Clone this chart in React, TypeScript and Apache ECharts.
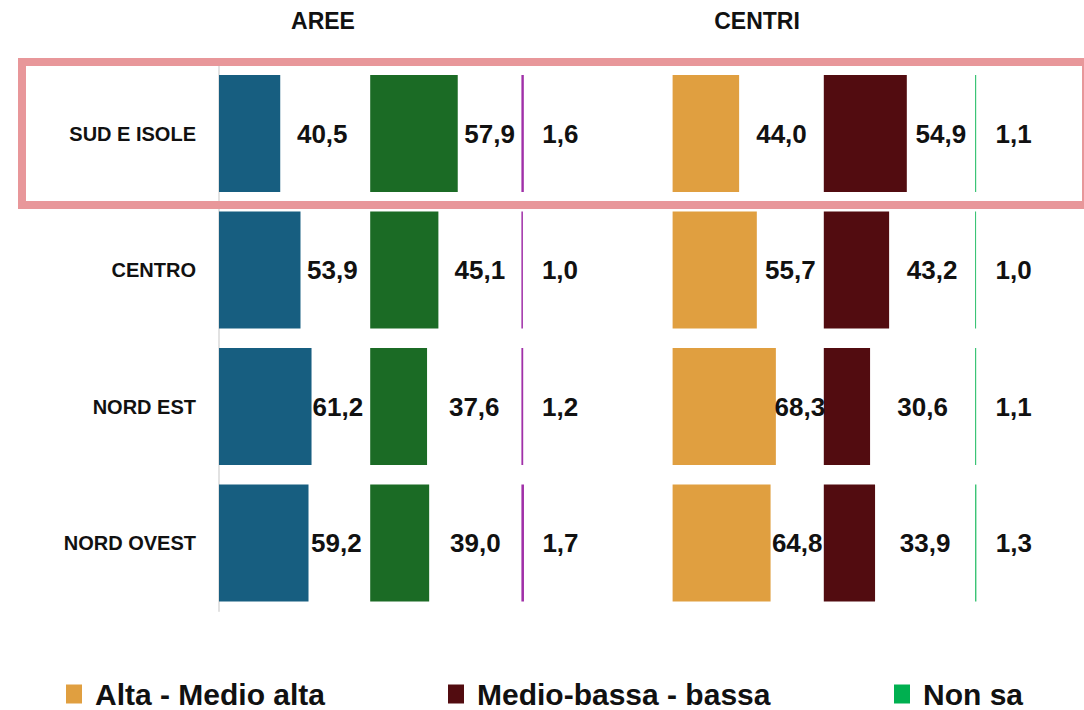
import React, { useEffect, useRef } from "react";
import * as echarts from "echarts";

const CATEGORIES = ["SUD E ISOLE", "CENTRO", "NORD EST", "NORD OVEST"];
const GROUP_TITLES = ["AREE", "CENTRI"];
const LEGEND_NAMES = ["Alta - Medio alta", "Medio-bassa - bassa", "Non sa"];

const AREE_ALTA = [40.5, 53.9, 61.2, 59.2];
const AREE_BASSA = [57.9, 45.1, 37.6, 39.0];
const AREE_NONSA = [1.6, 1.0, 1.2, 1.7];
const CENTRI_ALTA = [44.0, 55.7, 68.3, 64.8];
const CENTRI_BASSA = [54.9, 43.2, 30.6, 33.9];
const CENTRI_NONSA = [1.1, 1.0, 1.1, 1.3];

const FONT = "'Liberation Sans', Arial, sans-serif";
const COL_LEFT = 219;
const COL_W = 151.2;
const GRID_TOP = 65.25;
const GRID_H = 546;
const PX_PER_UNIT = COL_W / 100;

const fmt = (v: number) => v.toFixed(1).replace(".", ",");

export default function App() {
  const ref = useRef<HTMLDivElement>(null);

  useEffect(() => {
    if (!ref.current) return;
    const chart = echarts.init(ref.current, undefined, { renderer: "svg" });

    const columns = [
      { data: AREE_ALTA, color: "#175e80", name: "Aree: " + LEGEND_NAMES[0], span: 100, shift: -3 },
      { data: AREE_BASSA, color: "#1b6b25", name: "Aree: " + LEGEND_NAMES[1], span: 100, shift: 0 },
      { data: AREE_NONSA, color: "#a030a8", name: "Aree: " + LEGEND_NAMES[2], span: 50, shift: 0 },
      { data: CENTRI_ALTA, color: "#e09f40", name: LEGEND_NAMES[0], span: 100, shift: 0 },
      { data: CENTRI_BASSA, color: "#520c10", name: LEGEND_NAMES[1], span: 100, shift: 0 },
      { data: CENTRI_NONSA, color: "#3cc476", name: LEGEND_NAMES[2], span: 50, shift: 0 },
    ];
    const legendColors = ["#e09f40", "#520c10", "#00b050"];

    const grids = columns.map((_, i) => ({
      left: COL_LEFT + i * COL_W,
      top: GRID_TOP,
      width: COL_W,
      height: GRID_H,
      containLabel: false,
    }));

    const xAxes = columns.map((_, i) => ({
      type: "value",
      gridIndex: i,
      min: 0,
      max: 100,
      show: false,
    }));

    const yAxes = columns.map((_, i) => ({
      type: "category",
      gridIndex: i,
      data: CATEGORIES,
      inverse: true,
      show: i === 0,
      axisLine: { show: true, lineStyle: { color: "#d9d9d9", width: 1.5 } },
      axisTick: { show: false },
      splitLine: { show: false },
      axisLabel: {
        fontSize: 20,
        fontWeight: "bold",
        color: "#111111",
        fontFamily: FONT,
        margin: 23,
      },
    }));

    const series = columns.map((c, i) => ({
      type: "bar",
      name: c.name,
      xAxisIndex: i,
      yAxisIndex: i,
      barWidth: 117,
      itemStyle: { color: c.color },
      data: c.data.map((v) => ({
        value: v,
        label: { position: [((c.span + v) / 2) * PX_PER_UNIT + c.shift, "50%"] },
      })),
      label: {
        show: true,
        formatter: (p: any) => fmt(p.value),
        align: "center",
        verticalAlign: "middle",
        fontSize: 26,
        fontWeight: "bold",
        color: "#111111",
        fontFamily: FONT,
      },
    }));

    const legendLefts = [66, 448, 894];
    const legends = LEGEND_NAMES.map((n, i) => ({
      data: [{ name: n, itemStyle: { color: legendColors[i] } }],
      left: legendLefts[i],
      top: 679,
      icon: "rect",
      itemWidth: 16,
      itemHeight: 19,
      padding: 0,
      selectedMode: false,
      textStyle: {
        fontSize: 30,
        fontWeight: "bold",
        color: "#111111",
        fontFamily: FONT,
        padding: [0, 0, 0, 8],
      },
    }));

    chart.setOption({
      animation: false,
      backgroundColor: "#ffffff",
      grid: grids,
      xAxis: xAxes,
      yAxis: yAxes,
      series,
      legend: legends,
      graphic: [
        {
          type: "rect",
          shape: { x: 22, y: 62, width: 1064, height: 143 },
          style: { fill: "none", stroke: "#e8979a", lineWidth: 8 },
          z: 10,
        },
        {
          type: "text",
          x: 323,
          y: 21,
          style: {
            text: GROUP_TITLES[0],
            align: "center",
            verticalAlign: "middle",
            font: `bold 23px ${FONT}`,
            fill: "#111111",
          },
        },
        {
          type: "text",
          x: 757,
          y: 21,
          style: {
            text: GROUP_TITLES[1],
            align: "center",
            verticalAlign: "middle",
            font: `bold 23px ${FONT}`,
            fill: "#111111",
          },
        },
      ],
    });

    return () => chart.dispose();
  }, []);

  return (
    <div
      ref={ref}
      style={{ position: "fixed", left: 0, top: 0, width: 1084, height: 710 }}
    />
  );
}
